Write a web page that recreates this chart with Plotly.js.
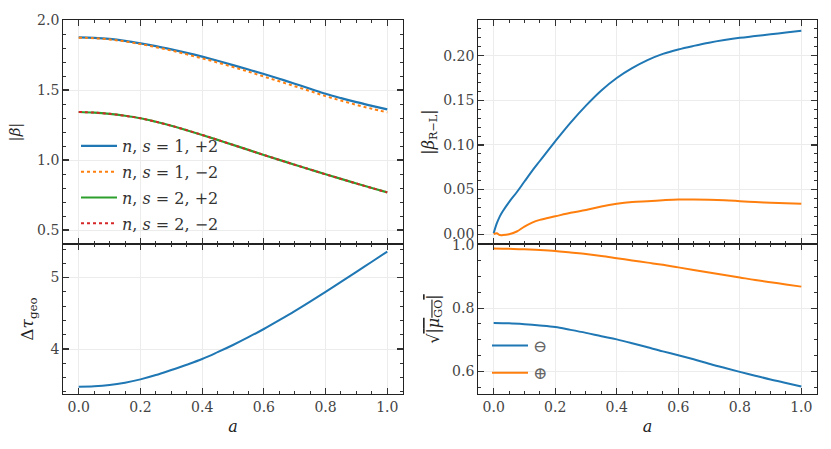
<!DOCTYPE html>
<html><head><meta charset="utf-8">
<script src="https://cdn.plot.ly/plotly-3.0.1.min.js"></script>
<style>html,body{margin:0;padding:0;background:#fff}</style>
</head><body><div id="c" style="width:831px;height:449px"></div>
<script>
const a = [0, 0.05, 0.1, 0.15, 0.2, 0.25, 0.3, 0.35, 0.4, 0.45, 0.5, 0.55, 0.6, 0.65, 0.7, 0.75, 0.8, 0.85, 0.9, 0.95, 1.0];
const beta_n1_p2 = [1.876, 1.873, 1.865, 1.851, 1.833, 1.813, 1.790, 1.765, 1.738, 1.709, 1.678, 1.646, 1.614, 1.580, 1.545, 1.509, 1.473, 1.442, 1.413, 1.387, 1.362];
const beta_n1_m2 = [1.874, 1.870, 1.861, 1.847, 1.828, 1.806, 1.782, 1.755, 1.726, 1.696, 1.664, 1.631, 1.596, 1.562, 1.527, 1.492, 1.456, 1.424, 1.394, 1.366, 1.340];
const beta_n2_p2 = [1.343, 1.339, 1.330, 1.316, 1.298, 1.273, 1.245, 1.213, 1.179, 1.144, 1.108, 1.072, 1.036, 1.001, 0.966, 0.932, 0.898, 0.865, 0.832, 0.800, 0.769];
const beta_n2_m2 = beta_n2_p2.slice();
const dtau = [3.472, 3.478, 3.495, 3.528, 3.575, 3.635, 3.706, 3.780, 3.860, 3.955, 4.056, 4.165, 4.280, 4.403, 4.530, 4.663, 4.800, 4.940, 5.080, 5.222, 5.364];
const aRL = [0, 0.01, 0.02, 0.03, 0.05, 0.075, 0.1, 0.125, 0.15, 0.2, 0.25, 0.3, 0.35, 0.4, 0.45, 0.5, 0.55, 0.6, 0.65, 0.7, 0.75, 0.8, 0.85, 0.9, 0.95, 1.0];
const betaRL_minus = [0.001, 0.012, 0.020, 0.026, 0.036, 0.047, 0.059, 0.071, 0.082, 0.104, 0.125, 0.144, 0.161, 0.175, 0.186, 0.195, 0.202, 0.207, 0.211, 0.2146, 0.2175, 0.220, 0.222, 0.224, 0.226, 0.228];
const betaRL_plus = [0.000, 0.001, -0.001, -0.001, 0.000, 0.003, 0.0086, 0.013, 0.016, 0.020, 0.024, 0.027, 0.031, 0.034, 0.036, 0.037, 0.038, 0.0388, 0.0389, 0.0386, 0.038, 0.037, 0.036, 0.0352, 0.0347, 0.034];
const mu_minus = [0.753, 0.752, 0.749, 0.745, 0.740, 0.731, 0.7215, 0.711, 0.701, 0.689, 0.676, 0.663, 0.651, 0.638, 0.624, 0.611, 0.598, 0.586, 0.574, 0.563, 0.552];
const mu_plus = [0.989, 0.988, 0.986, 0.984, 0.981, 0.976, 0.971, 0.965, 0.958, 0.951, 0.944, 0.937, 0.929, 0.921, 0.913, 0.905, 0.897, 0.889, 0.882, 0.875, 0.868];
const legLeft = ['<i>n</i>, <i>s</i> = 1, +2', '<i>n</i>, <i>s</i> = 1, −2', '<i>n</i>, <i>s</i> = 2, +2', '<i>n</i>, <i>s</i> = 2, −2'];
const legRight = ['⊖', '⊕'];

const blue = '#1f77b4', orange = '#ff7f0e', green = '#2ca02c', red = '#d62728';
const F = 'DejaVu Serif';

const traces = [
  {x:a, y:beta_n1_p2, name:legLeft[0], legendgroup:'g1', mode:'lines', line:{color:blue, width:2.2, shape:'spline'}, xaxis:'x', yaxis:'y', legend:'legend'},
  {x:a, y:beta_n1_m2, name:legLeft[1], legendgroup:'g2', mode:'lines', line:{color:orange, width:2, dash:'dot', shape:'spline'}, xaxis:'x', yaxis:'y', legend:'legend'},
  {x:a, y:beta_n2_p2, name:legLeft[2], legendgroup:'g3', mode:'lines', line:{color:green, width:2.2, shape:'spline'}, xaxis:'x', yaxis:'y', legend:'legend'},
  {x:a, y:beta_n2_m2, name:legLeft[3], legendgroup:'g4', mode:'lines', line:{color:red, width:2, dash:'dot', shape:'spline'}, xaxis:'x', yaxis:'y', legend:'legend'},
  {x:a, y:dtau, mode:'lines', line:{color:blue, width:2, shape:'spline'}, xaxis:'x2', yaxis:'y2', showlegend:false},
  {x:aRL, y:betaRL_minus, mode:'lines', line:{color:blue, width:2, shape:'spline'}, xaxis:'x3', yaxis:'y3', showlegend:false},
  {x:aRL, y:betaRL_plus, mode:'lines', line:{color:orange, width:2, shape:'spline'}, xaxis:'x3', yaxis:'y3', showlegend:false},
  {x:a, y:mu_minus, name:legRight[0], legendgroup:'h1', mode:'lines', line:{color:blue, width:2, shape:'spline'}, xaxis:'x4', yaxis:'y4', legend:'legend2'},
  {x:a, y:mu_plus, name:legRight[1], legendgroup:'h2', mode:'lines', line:{color:orange, width:2, shape:'spline'}, xaxis:'x4', yaxis:'y4', legend:'legend2'}
];

function ax(extra){
  return Object.assign({
    showline:true, linecolor:'#222', linewidth:1.2, mirror:'allticks',
    ticks:'inside', ticklen:6, tickwidth:1.2, tickcolor:'#333',
    showgrid:true, gridcolor:'#ececec', gridwidth:1, zeroline:false,
    tickfont:{family:F, size:14, color:'#444'}
  }, extra);
}
const xr = [-0.05, 1.05];
const mn = (d) => ({ticks:'inside', ticklen:3, tickwidth:1, tickcolor:'#333', dtick:d, showgrid:false});
const L = [63.3/831, 402.7/831], R = [478.3/831, 816.7/831];
const T = [1-244/449, 1-20/449], B = [1-394/449, 1-244/449];
const tf = (s) => ({family:F, size:s, color:'#222'});

const layout = {
  width:831, height:449, margin:{l:0, r:0, t:0, b:0},
  paper_bgcolor:'#fff', plot_bgcolor:'#fff',
  font:{family:F, size:14, color:'#444'},
  xaxis: ax({domain:L, anchor:'y', range:xr, dtick:0.2, tick0:0, showticklabels:false, minor:mn(0.05)}),
  yaxis: ax({domain:T, anchor:'x', range:[0.4, 2.0], dtick:0.5, tick0:0, tickformat:'.1f', minor:mn(0.1), title:{text:'|<i>β</i>|', standoff:12, font:tf(15)}}),
  xaxis2: ax({domain:L, anchor:'y2', range:xr, dtick:0.2, tick0:0, tickformat:'.1f', minor:mn(0.05), title:{text:'<i>a</i>', standoff:6, font:tf(16)}}),
  yaxis2: ax({domain:B, anchor:'x2', range:[3.37, 5.47], dtick:1, tick0:0, minor:mn(0.2), title:{text:'Δ<i>τ</i><sub>geo</sub>', standoff:12, font:tf(17)}}),
  xaxis3: ax({domain:R, anchor:'y3', range:xr, dtick:0.2, tick0:0, showticklabels:false, minor:mn(0.05)}),
  yaxis3: ax({domain:T, anchor:'x3', range:[-0.011, 0.24], dtick:0.05, tick0:0, tickformat:'.2f', minor:mn(0.01), title:{text:'|<i>β</i><sub>R−L</sub>|', standoff:4, font:tf(16)}}),
  xaxis4: ax({domain:R, anchor:'y4', range:xr, dtick:0.2, tick0:0, tickformat:'.1f', minor:mn(0.05), title:{text:'<i>a</i>', standoff:6, font:tf(16)}}),
  yaxis4: ax({domain:B, anchor:'x4', range:[0.528, 1.003], dtick:0.2, tick0:0, tickformat:'.1f', minor:mn(0.05), title:{text:'√<span style="text-decoration:overline">|<i>μ</i><sub>GO</sub>|</span>', standoff:8, font:tf(16)}}),
  legend: {x:76/831, y:1-129/449, xanchor:'left', yanchor:'top', bgcolor:'rgba(0,0,0,0)', font:{family:F, size:16, color:'#333'}, tracegroupgap:2, itemwidth:36},
  legend2: {x:487/831, y:1-328/449, xanchor:'left', yanchor:'top', bgcolor:'rgba(0,0,0,0)', font:{family:F, size:17, color:'#666'}, tracegroupgap:2, itemwidth:36}
};
Plotly.newPlot('c', traces, layout, {staticPlot:true, displayModeBar:false});
</script></body></html>
